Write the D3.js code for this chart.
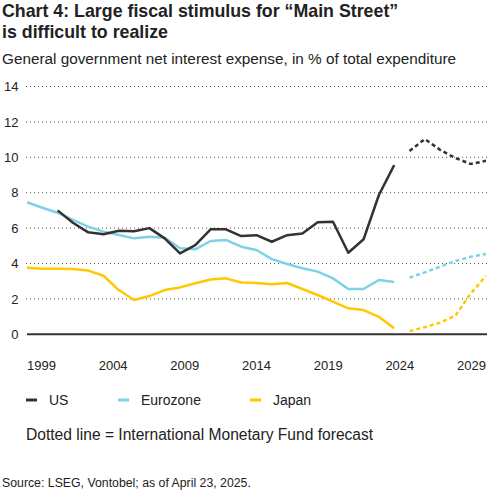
<!DOCTYPE html>
<html>
<head>
<meta charset="utf-8">
<script src="https://cdn.jsdelivr.net/npm/d3@7"></script>
<style>
    body { margin: 0; background: #fff; }
    svg { font-family: "Liberation Sans", Arial, sans-serif; display: block; }
</style>
</head>
<body>
<div id="chart"></div>
<script>
// data arrays

var usYears = d3.range(2001, 2024);
var usValues = [7.0, 6.3, 5.76, 5.65, 5.85, 5.82, 6.0, 5.42, 4.57, 5.04, 5.93, 5.93, 5.55,
    5.6, 5.23, 5.6, 5.7, 6.33, 6.36, 4.61, 5.37, 7.87, 9.56];

var euYears = d3.range(1999, 2024);
var euValues = [7.46, 7.15, 6.87, 6.46, 6.08, 5.8, 5.61, 5.42, 5.51, 5.46, 4.86, 4.8, 5.27,
    5.33, 4.95, 4.76, 4.25, 3.97, 3.73, 3.54, 3.16, 2.56, 2.56, 3.07, 2.95];

var jpYears = d3.range(1999, 2024);
var jpValues = [3.76, 3.71, 3.7, 3.69, 3.6, 3.31, 2.5, 1.94, 2.16, 2.5, 2.65, 2.88, 3.1,
    3.16, 2.93, 2.9, 2.83, 2.9, 2.56, 2.22, 1.85, 1.47, 1.37, 0.99, 0.34];

// IMF forecast
var fcYears = d3.range(2024, 2030);
var usForecast = [10.36, 11.03, 10.42, 9.96, 9.62, 9.8];
var euForecast = [3.2, 3.5, 3.82, 4.14, 4.38, 4.54];
var jpForecast = [0.18, 0.4, 0.66, 1.05, 2.3, 3.3];

var yTicks = [0, 2, 4, 6, 8, 10, 12, 14];
var xTicks = [1999, 2004, 2009, 2014, 2019, 2024, 2029];

var seriesNames = ['US', 'Eurozone', 'Japan'];
var seriesColors = ['#333333', '#7fd1e6', '#ffc800'];

var width = 489;
var height = 493;

var svg = d3.select('#chart')
    .append('svg')
    .attr('width', width)
    .attr('height', height);

// scales
var x_scale = d3.scaleLinear()
    .domain([1999, 2029])
    .range([27, 486]);

var y_scale = d3.scaleLinear()
    .domain([0, 14])
    .range([334.3, 86.5]);

// title + subtitle
svg.append('text')
    .attr('x', 2).attr('y', 17)
    .attr('font-size', 17.8).attr('font-weight', 'bold')
    .attr('fill', '#222')
    .text('Chart 4: Large fiscal stimulus for \u201cMain Street\u201d');
svg.append('text')
    .attr('x', 2).attr('y', 38)
    .attr('font-size', 17.8).attr('font-weight', 'bold')
    .attr('fill', '#222')
    .text('is difficult to realize');
svg.append('text')
    .attr('x', 2).attr('y', 64)
    .attr('font-size', 15.3)
    .attr('fill', '#222')
    .text('General government net interest expense, in % of total expenditure');

// gridlines
svg.selectAll('.grid')
    .data(yTicks.filter(function(d){ return d > 0; }))
    .enter()
    .append('line')
    .attr('class', 'grid')
    .attr('x1', 26).attr('x2', 489)
    .attr('y1', function(d){ return y_scale(d); })
    .attr('y2', function(d){ return y_scale(d); })
    .attr('stroke', '#555')
    .attr('stroke-width', 1)
    .attr('stroke-dasharray', '1,3');

// zero line
svg.append('line')
    .attr('x1', x_scale(1999)).attr('x2', 487)
    .attr('y1', y_scale(0)).attr('y2', y_scale(0))
    .attr('stroke', '#333')
    .attr('stroke-width', 2);

// y tick labels
svg.selectAll('.ylab')
    .data(yTicks)
    .enter()
    .append('text')
    .attr('class', 'ylab')
    .attr('x', 18.5)
    .attr('y', function(d){ return y_scale(d); })
    .attr('dy', '0.36em')
    .attr('text-anchor', 'end')
    .attr('font-size', 13)
    .attr('fill', '#222')
    .text(function(d){ return d; });

// x tick labels, spread from left aligned to right aligned
svg.selectAll('.xlab')
    .data(xTicks)
    .enter()
    .append('text')
    .attr('class', 'xlab')
    .attr('y', 370)
    .attr('font-size', 13)
    .attr('fill', '#222')
    .text(function(d){ return d; })
    .attr('x', function(d){
        var t = (d - 1999) / 30;
        return x_scale(d) - t * this.getComputedTextLength();
    });

// lines
var line = d3.line()
    .x(function(d){ return x_scale(d[0]); })
    .y(function(d){ return y_scale(d[1]); });

function pairs(years, values) {
    return years.map(function(y, i){ return [y, values[i]]; });
}

var actual = [pairs(usYears, usValues), pairs(euYears, euValues), pairs(jpYears, jpValues)];
var forecast = [pairs(fcYears, usForecast), pairs(fcYears, euForecast), pairs(fcYears, jpForecast)];

// draw japan first, us on top
[2, 1, 0].forEach(function(i){
    svg.append('path')
        .attr('d', line(actual[i]))
        .attr('fill', 'none')
        .attr('stroke', seriesColors[i])
        .attr('stroke-width', 2.5)
        .attr('stroke-linejoin', 'round');
    svg.append('path')
        .attr('d', line(forecast[i]))
        .attr('fill', 'none')
        .attr('stroke', seriesColors[i])
        .attr('stroke-width', 2.5)
        .attr('stroke-dasharray', '4,3');
});

// legend
var legendX = [26, 118, 250];
var legend = svg.selectAll('.legend')
    .data(seriesNames)
    .enter()
    .append('g')
    .attr('class', 'legend')
    .attr('transform', function(d, i){ return 'translate(' + legendX[i] + ',400)'; });

legend.append('line')
    .attr('x1', 0).attr('x2', 11)
    .attr('y1', 0).attr('y2', 0)
    .attr('stroke', function(d, i){ return seriesColors[i]; })
    .attr('stroke-width', 3);

legend.append('text')
    .attr('x', 23).attr('y', 5)
    .attr('font-size', 14)
    .attr('fill', '#222')
    .text(function(d){ return d; });

svg.append('text')
    .attr('x', 26).attr('y', 440)
    .attr('font-size', 15.6)
    .attr('fill', '#222')
    .text('Dotted line = International Monetary Fund forecast');

svg.append('text')
    .attr('x', 2).attr('y', 487)
    .attr('font-size', 12.3)
    .attr('fill', '#222')
    .text('Source: LSEG, Vontobel; as of April 23, 2025.');
</script>
</body>
</html>
